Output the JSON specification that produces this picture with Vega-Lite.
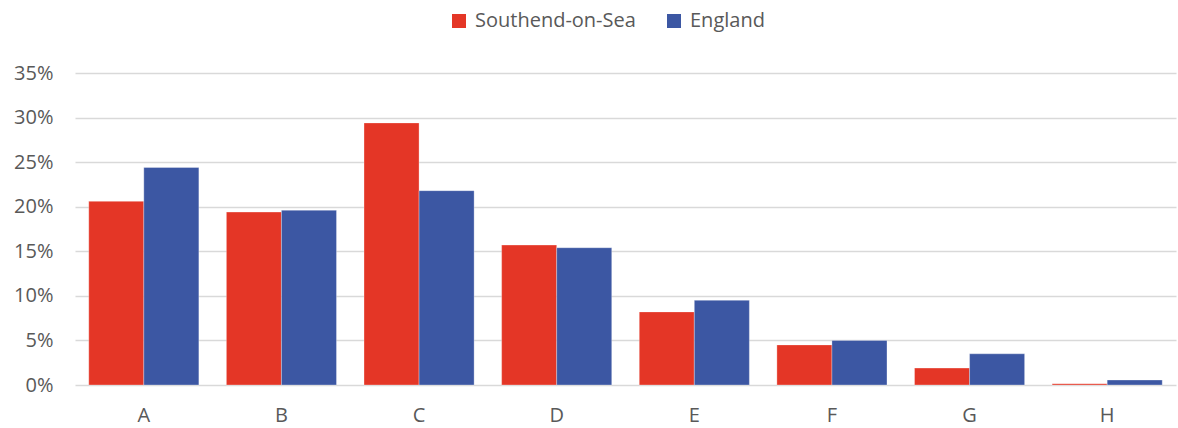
{
  "$schema": "https://vega.github.io/schema/vega-lite/v6.json",
  "width": 1101,
  "height": 312,
  "autosize": {"type": "none"},
  "padding": {"left": 75, "top": 73, "right": 2, "bottom": 43},
  "background": "white",
  "config": {
    "view": {"stroke": null},
    "font": "Open Sans"
  },
  "data": {
    "values": [
      {"cat": "A", "area": "Southend-on-Sea", "value": 0.206},
      {"cat": "A", "area": "England", "value": 0.244},
      {"cat": "B", "area": "Southend-on-Sea", "value": 0.194},
      {"cat": "B", "area": "England", "value": 0.196},
      {"cat": "C", "area": "Southend-on-Sea", "value": 0.294},
      {"cat": "C", "area": "England", "value": 0.218},
      {"cat": "D", "area": "Southend-on-Sea", "value": 0.157},
      {"cat": "D", "area": "England", "value": 0.154},
      {"cat": "E", "area": "Southend-on-Sea", "value": 0.082},
      {"cat": "E", "area": "England", "value": 0.095},
      {"cat": "F", "area": "Southend-on-Sea", "value": 0.045},
      {"cat": "F", "area": "England", "value": 0.050},
      {"cat": "G", "area": "Southend-on-Sea", "value": 0.019},
      {"cat": "G", "area": "England", "value": 0.035},
      {"cat": "H", "area": "Southend-on-Sea", "value": 0.0015},
      {"cat": "H", "area": "England", "value": 0.0056}
    ]
  },
  "mark": {"type": "bar", "stroke": "white", "strokeWidth": 0.5, "strokeOpacity": 0.6},
  "encoding": {
    "x": {
      "field": "cat", "type": "nominal", "title": null,
      "scale": {"paddingInner": 0.2, "paddingOuter": 0.1},
      "axis": {"labelAngle": 0, "domain": false, "ticks": false, "labelPadding": 20, "labelFontSize": 20, "labelColor": "#595959"}
    },
    "xOffset": {"field": "area", "type": "nominal", "sort": ["Southend-on-Sea", "England"], "scale": {"paddingInner": 0, "paddingOuter": 0}},
    "y": {
      "field": "value", "type": "quantitative", "title": null,
      "scale": {"domain": [0, 0.35], "nice": false},
      "axis": {"format": ".0%", "values": [0, 0.05, 0.1, 0.15, 0.2, 0.25, 0.3, 0.35], "domain": false, "ticks": false, "labelPadding": 22, "labelFontSize": 20, "labelColor": "#595959", "gridColor": "#d9d9d9", "gridWidth": 1.5}
    },
    "color": {
      "field": "area", "type": "nominal", "title": null,
      "sort": ["Southend-on-Sea", "England"],
      "scale": {"domain": ["Southend-on-Sea", "England"], "range": ["#E43626", "#3C57A3"]},
      "legend": {"orient": "none", "legendX": 374, "legendY": -62, "direction": "horizontal", "symbolType": "square", "symbolSize": 196, "symbolStrokeWidth": 0, "labelFontSize": 20, "labelLimit": 400, "labelColor": "#595959", "columnPadding": 28, "labelOffset": 6}
    }
  }
}
